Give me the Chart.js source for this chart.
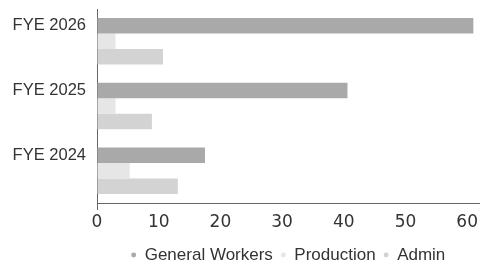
<!DOCTYPE html>
<html>
<head>
<meta charset="utf-8">
<script src="https://cdn.jsdelivr.net/npm/chart.js@4"></script>
<style>
  html, body { margin: 0; padding: 0; background: #fff; }
  #wrap { width: 480px; height: 264px; }
</style>
</head>
<body>
<div id="wrap"><canvas id="chart"></canvas></div>
<script>
// values
const years = ['FYE 2026', 'FYE 2025', 'FYE 2024'];
const generalWorkers = [61, 40.6, 17.5];
const production = [3, 3, 5.3];
const admin = [10.7, 8.9, 13.1];
const xTicks = [0, 10, 20, 30, 40, 50, 60];

const axisColor = '#666';
const textColor = '#333';
const fontFamily = "'Liberation Sans', Arial, sans-serif";

new Chart(document.getElementById('chart').getContext('2d'), {
  type: 'bar',
  data: {
    labels: years,
    datasets: [
      { label: 'General Workers', data: generalWorkers, backgroundColor: '#a9a9a9' },
      { label: 'Production', data: production, backgroundColor: '#e6e6e6' },
      { label: 'Admin', data: admin, backgroundColor: '#d3d3d3' }
    ]
  },
  options: {
    indexAxis: 'y',
    responsive: true,
    maintainAspectRatio: false,
    animation: false,
    categoryPercentage: 0.72,
    barPercentage: 1,
    // negative bottom padding pushes the legend down to the canvas edge
    layout: { padding: { top: 9, right: 0, left: 0, bottom: -9.5 } },
    scales: {
      x: {
        min: 0,
        max: 62,
        afterBuildTicks: (axis) => { axis.ticks = xTicks.map(v => ({ value: v })); },
        afterFit: (axis) => { axis.height = 35.5; },
        border: { display: true, color: axisColor, width: 1 },
        grid: {
          display: true,
          drawOnChartArea: false,
          drawTicks: true,
          tickLength: 7,
          color: (c) => (c.index === 0 ? axisColor : 'rgba(0,0,0,0)')
        },
        ticks: {
          color: textColor,
          font: { family: "'DejaVu Sans', sans-serif", size: 17 },
          padding: 2,
          maxRotation: 0
        }
      },
      y: {
        afterFit: (axis) => {
          axis.width = 97;
          axis.paddingTop = 0;
          axis.paddingBottom = 0;
        },
        border: { display: true, color: axisColor, width: 1 },
        grid: { display: false },
        ticks: {
          color: textColor,
          font: { family: fontFamily, size: 16.5 },
          padding: 3,
          labelOffset: -15.5
        }
      }
    },
    plugins: {
      legend: {
        position: 'bottom',
        fullSize: false,
        labels: {
          usePointStyle: true,
          pointStyle: 'circle',
          boxWidth: 5,
          boxHeight: 3.5,
          padding: 8,
          color: textColor,
          font: { family: fontFamily, size: 17 }
        }
      },
      tooltip: { enabled: false }
    }
  }
});
</script>
</body>
</html>
